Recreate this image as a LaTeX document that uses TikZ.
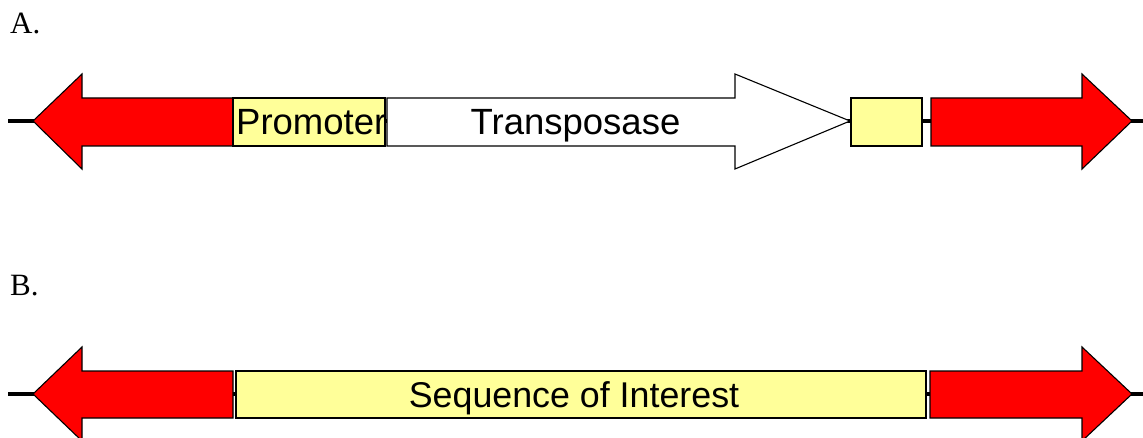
\documentclass[tikz,border=0pt]{standalone}
\usepackage{fontspec}
\setmainfont{Liberation Serif}
\newfontfamily\arialf{Liberation Sans}
\definecolor{genered}{HTML}{FF0000}
\definecolor{geneyel}{HTML}{FFFF99}
\begin{document}
\begin{tikzpicture}[x=1pt,y=-1pt,
  outl/.style={draw=black,line width=1.1pt,line join=miter},
  redarrow/.style={outl,fill=genered},
  yelbox/.style={outl,fill=geneyel},
  whitearrow/.style={outl,fill=white},
  backbone/.style={line width=4.5pt,draw=black},
  lbl/.style={font=\arialf\fontsize{36.5}{40}\selectfont,inner sep=0pt},
  panel/.style={font=\fontsize{31}{36}\selectfont,inner sep=0pt,anchor=base west}]
\useasboundingbox (0,0) rectangle (1143,438);
% ---- A ----
\node[panel] (la) at (10,34) {A.};
\coordinate (a0) at (8,121);
\coordinate (a1) at (1143,121);
\draw[backbone] (a0) -- (a1);
\draw[redarrow] (33,121) -- (82,74) -- (82,98) -- (233,98) -- (233,146) -- (82,146) -- (82,169) -- cycle;
\draw[yelbox] (233,98) rectangle (385,146);
\node[lbl,anchor=base west] (prom) at (236,135) {Promoter};
\draw[whitearrow] (387,98) -- (735,98) -- (735,74) -- (850,121) -- (735,169) -- (735,146) -- (387,146) -- cycle;
\node[lbl,anchor=base] (tp) at (575.5,135) {Transposase};
\draw[yelbox] (851,98) rectangle (922,146);
\draw[redarrow] (931,98) -- (1082,98) -- (1082,74) -- (1132,121) -- (1082,169) -- (1082,146) -- (931,146) -- cycle;
% ---- B ----
\node[panel] (lb) at (10,295) {B.};
\coordinate (b0) at (8,394);
\coordinate (b1) at (1143,394);
\draw[backbone] (b0) -- (b1);
\draw[redarrow] (33,394) -- (82,347) -- (82,371) -- (233,371) -- (233,418) -- (82,418) -- (82,441) -- cycle;
\draw[yelbox] (236,371) rectangle (926,418);
\node[lbl,anchor=base,font=\arialf\fontsize{35.8}{40}\selectfont] (soi) at (574,407) {Sequence of Interest};
\draw[redarrow] (930,371) -- (1082,371) -- (1082,347) -- (1132,394) -- (1082,441) -- (1082,418) -- (930,418) -- cycle;
\end{tikzpicture}
\end{document}
